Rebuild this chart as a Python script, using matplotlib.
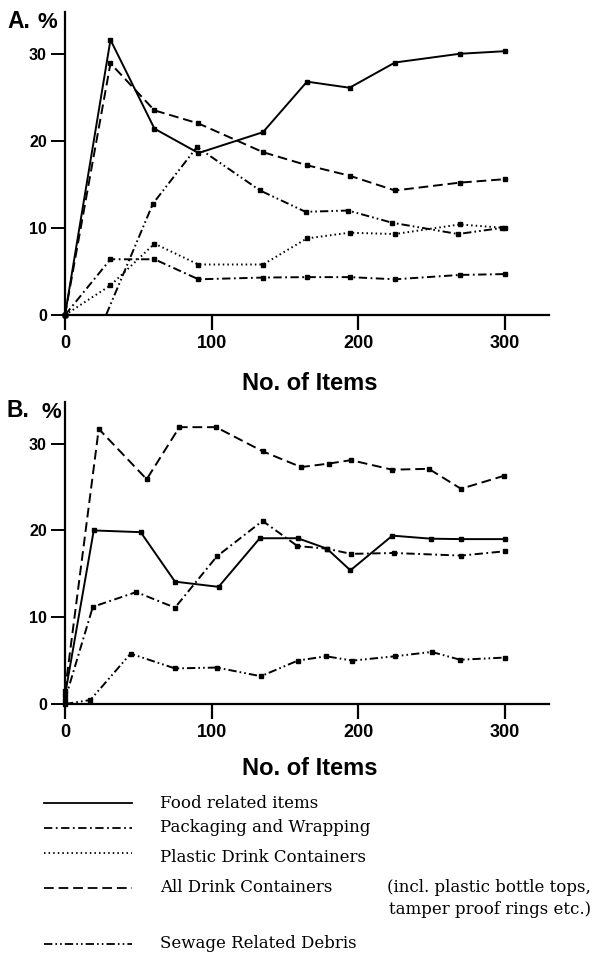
import numpy as np
import matplotlib
matplotlib.use("Agg")
import matplotlib.pyplot as plt

plt.rcParams['lines.scale_dashes'] = False

#region data
# panel A - sample
a_x = [0, 31, 61, 91, 135, 165, 194, 225, 269, 300]
a_food = [0, 31.6, 21.4, 18.6, 21.0, 26.8, 26.1, 29.0, 30.0, 30.3]
a_drink = [0, 28.9, 23.5, 22.0, 18.7, 17.2, 16.0, 14.3, 15.2, 15.6]
a_plastic = [0, 3.4, 8.2, 5.8, 5.8, 8.8, 9.45, 9.3, 10.4, 10.0]
a_pack = [0, 6.4, 6.4, 4.1, 4.3, 4.35, 4.35, 4.1, 4.6, 4.7]
a_sew_x = [0, 28, 60, 90, 133, 164, 193, 223, 268, 298]
a_sew = [0, 0, 12.8, 19.3, 14.3, 11.85, 12.0, 10.6, 9.3, 10.0]

# panel B
b_food_x = [0, 19.6, 51.6, 75, 104.7, 132.8, 158.7, 178.6, 194.6, 223.2, 249.5, 270, 299.8]
b_food = [1.0, 20.0, 19.8, 14.1, 13.5, 19.1, 19.1, 17.9, 15.4, 19.4, 19.05, 19.0, 19.0]
b_drink_x = [0, 23, 55.7, 78, 103, 135, 161, 179.7, 195, 223, 248, 270, 299.4]
b_drink = [1.5, 31.7, 25.9, 31.9, 31.9, 29.1, 27.3, 27.7, 28.1, 27.0, 27.1, 24.8, 26.3]
b_pack_x = [0, 19, 48.6, 75, 103.5, 134.7, 158.5, 178.6, 195, 224.3, 270, 299.8]
b_pack = [0.5, 11.2, 12.9, 11.1, 17.0, 21.1, 18.2, 17.9, 17.3, 17.4, 17.1, 17.6]
b_sew_x = [0, 17.3, 44.7, 75, 103.5, 133.5, 158.7, 178, 196, 225, 250, 269.4, 299.8]
b_sew = [0, 0.46, 5.8, 4.1, 4.2, 3.2, 5.0, 5.5, 5.0, 5.5, 6.0, 5.1, 5.35]

x_ticks = [0, 100, 200, 300]
y_ticks = [0, 10, 20, 30]
legend_labels = ["Food related items", "Packaging and Wrapping",
                 "Plastic Drink Containers", "All Drink Containers",
                 "Sewage Related Debris"]
drink_note = ["(incl. plastic bottle tops,", "tamper proof rings etc.)"]
#endregion

# line styles for each category
STY = {
    "food": "-",
    "pack": (0, (6, 2.5, 1.3, 2.5)),
    "plastic": (0, (1.1, 2.2)),
    "drink": (0, (7, 3.5)),
    "sew": (0, (6, 2.2, 1.2, 2.2, 1.2, 2.2)),
}

W, H = 595, 956
fig = plt.figure(figsize=(W / 100, H / 100), dpi=100)

tick_fam = ['Liberation Sans Narrow', 'Liberation Sans']


def setup_axes(ax):
    ax.set_xlim(0, 330)
    ax.set_ylim(0, 34.8)
    for s in ("top", "right"):
        ax.spines[s].set_visible(False)
    for s in ("left", "bottom"):
        ax.spines[s].set_linewidth(1.6)
    ax.set_xticks(x_ticks)
    ax.set_yticks(y_ticks)
    ax.tick_params(axis='x', length=10.5, width=1.6, pad=4, labelsize=13)
    ax.tick_params(axis='y', length=10, width=1.4, pad=3, labelsize=11.5)
    for lab in ax.get_xticklabels() + ax.get_yticklabels():
        lab.set_fontfamily(tick_fam)
        lab.set_fontweight('bold')


def series(ax, x, y, key, skip=None):
    marks = [i for i in range(len(x)) if i != skip]
    ax.plot(x, y, color='k', lw=1.4, ls=STY[key], marker='s', ms=2.6,
            markevery=marks, clip_on=False)


# panel A
axA = fig.add_axes([65 / W, 1 - 315 / H, 484 / W, 303 / H])
setup_axes(axA)
series(axA, a_x, a_food, "food")
series(axA, a_x, a_drink, "drink")
series(axA, a_x, a_plastic, "plastic")
series(axA, a_x, a_pack, "pack")
series(axA, a_sew_x, a_sew, "sew", skip=1)

# panel B
axB = fig.add_axes([65 / W, 1 - 704 / H, 484 / W, 302 / H])
setup_axes(axB)
series(axB, b_food_x, b_food, "food")
series(axB, b_drink_x, b_drink, "drink")
series(axB, b_pack_x, b_pack, "pack")
series(axB, b_sew_x, b_sew, "sew")

lab_font = dict(family=['Liberation Sans', 'DejaVu Sans'], weight='bold')
fig.text(310 / W, 1 - 390 / H, "No. of Items", ha='center', va='baseline', fontsize=17, **lab_font)
fig.text(310 / W, 1 - 775 / H, "No. of Items", ha='center', va='baseline', fontsize=17, **lab_font)
fig.text(7 / W, 1 - 28 / H, "A.", ha='left', va='baseline', fontsize=16.5, **lab_font)
fig.text(38 / W, 1 - 28 / H, "%", ha='left', va='baseline', fontsize=16, **lab_font)
fig.text(7 / W, 1 - 417 / H, "B.", ha='left', va='baseline', fontsize=16.5, **lab_font)
fig.text(42 / W, 1 - 418 / H, "%", ha='left', va='baseline', fontsize=16, **lab_font)

# legend drawn by hand in pixel coords
leg = fig.add_axes([0, 0, 1, 1], zorder=-1)
leg.set_xlim(0, W)
leg.set_ylim(H, 0)
leg.axis('off')
rows = [803, 828, 853, 888, 944]
keys = ["food", "pack", "plastic", "drink", "sew"]
serif = dict(family=['DejaVu Serif'], fontsize=12)
for yy, k, txt in zip(rows, keys, legend_labels):
    leg.plot([44, 132], [yy, yy], color='k', lw=1.3, ls=STY[k])
    leg.text(160, yy + (4 if k == "plastic" else 0), txt, va='center', ha='left', **serif)
leg.text(591, 888, drink_note[0], va='center', ha='right', **serif)
leg.text(591, 910, drink_note[1], va='center', ha='right', **serif)

plt.savefig("out.png", dpi=100)
